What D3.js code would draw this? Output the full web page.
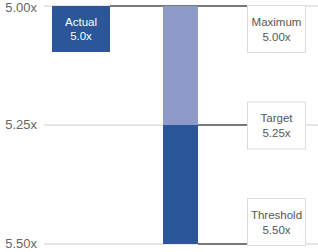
<!DOCTYPE html>
<html><head><meta charset="utf-8">
<script src="https://cdn.jsdelivr.net/npm/d3@7"></script>
<style>html,body{margin:0;padding:0;background:#fff;}svg{display:block;}</style>
</head><body>
<svg id="c" width="318" height="252"></svg>
<script>
const tickValues = [5.00, 5.25, 5.50];
const tickLabels = ["5.00x", "5.25x", "5.50x"];
const actualValue = 5.0;
const actualLabel = ["Actual", "5.0x"];
const levelNames = ["Maximum", "Target", "Threshold"];
const levelValues = [5.00, 5.25, 5.50];
const levelLabels = ["5.00x", "5.25x", "5.50x"];
const barSegments = [
  {from: 5.00, to: 5.25, color: "#8d9ac7"},
  {from: 5.25, to: 5.50, color: "#2b569a"}
];

const svg = d3.select("#c");
const font = "'Liberation Sans', Arial, sans-serif";
const y = d3.scaleLinear().domain([5.0, 5.5]).range([6, 244]);
const grey = "#dcdcdc", dark = "#555";
const barX0 = 163, barX1 = 198;
const boxX0 = 247, boxW = 58, boxH = 47;
const actX0 = 52, actW = 58, actH = 46;

// light gridlines
svg.selectAll("line.grid").data(tickValues).join("line")
  .attr("x1", 44).attr("x2", 318)
  .attr("y1", d => y(d)).attr("y2", d => y(d))
  .attr("stroke", grey).attr("stroke-width", 1.5);

// tick labels
svg.selectAll("text.tick").data(tickValues).join("text")
  .attr("x", 37).attr("y", d => Math.min(Math.max(y(d), 7.5), 245))
  .attr("text-anchor", "end").attr("dy", "0.32em")
  .attr("font-family", font).attr("font-size", 13).attr("fill", "#666")
  .text((d, i) => tickLabels[i]);

// dark connector lines
svg.append("line")
  .attr("x1", actX0 + actW).attr("x2", boxX0)
  .attr("y1", y(actualValue)).attr("y2", y(actualValue))
  .attr("stroke", dark).attr("stroke-width", 1.5);
svg.selectAll("line.conn").data(levelValues.slice(1)).join("line")
  .attr("x1", barX1).attr("x2", boxX0)
  .attr("y1", d => y(d)).attr("y2", d => y(d))
  .attr("stroke", dark).attr("stroke-width", 1.5);

// bar
svg.selectAll("rect.seg").data(barSegments).join("rect")
  .attr("x", barX0).attr("width", barX1 - barX0)
  .attr("y", d => y(d.from)).attr("height", d => y(d.to) - y(d.from))
  .attr("fill", d => d.color);

// actual box
svg.append("rect").attr("x", actX0).attr("y", y(actualValue)).attr("width", actW).attr("height", actH)
  .attr("fill", "#2b569a");
actualLabel.forEach((t, i) => {
  svg.append("text").attr("x", actX0 + actW / 2).attr("y", y(actualValue) + 16 + i * 14)
    .attr("dy", "0.32em").attr("text-anchor", "middle")
    .attr("font-family", font).attr("font-size", 11.5).attr("fill", "#fff").text(t);
});

// level boxes
levelValues.forEach((v, i) => {
  let top = y(v) - boxH / 2;
  top = Math.max(top, 5);
  top = Math.min(top, 245 - boxH);
  const g = svg.append("g");
  g.append("rect").attr("x", boxX0 + 0.5).attr("y", top + 0.5).attr("width", boxW).attr("height", boxH)
    .attr("fill", "#fff").attr("stroke", grey).attr("stroke-width", 1);
  [levelNames[i], levelLabels[i]].forEach((t, j) => {
    g.append("text").attr("x", boxX0 + boxW / 2 + 0.5).attr("y", top + 17 + j * 15)
      .attr("dy", "0.32em").attr("text-anchor", "middle")
      .attr("font-family", font).attr("font-size", 11.5).attr("fill", "#555").text(t);
  });
});
</script>
</body></html>
